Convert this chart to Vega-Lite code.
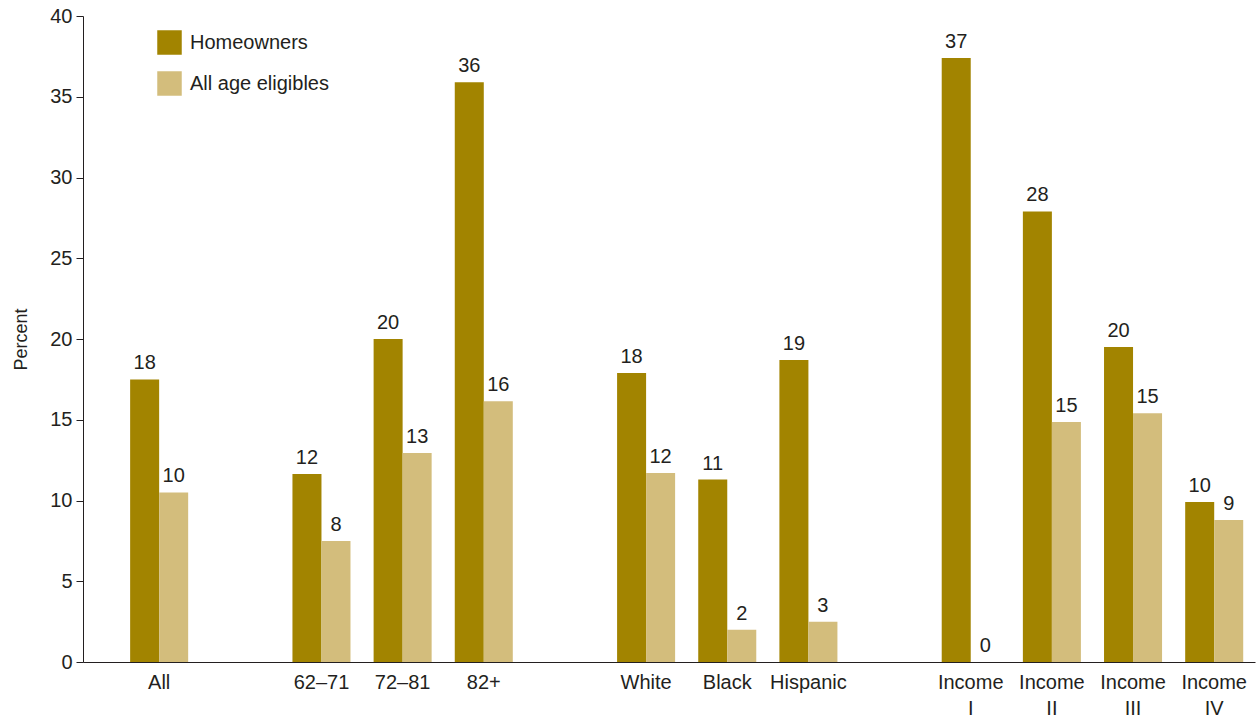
{
  "$schema": "https://vega.github.io/schema/vega-lite/v6.json",
  "width": 1172,
  "height": 646,
  "autosize": {"type": "none"},
  "padding": {"left": 83, "top": 16, "right": 3, "bottom": 55},
  "background": "white",
  "config": {
    "view": {"stroke": null},
    "font": "Liberation Sans",
    "axis": {"labelColor": "#231F20", "titleColor": "#231F20", "domainColor": "#231F20", "tickColor": "#231F20", "grid": false}
  },
  "data": {
    "values": [
      {"group": "All", "series": "Homeowners", "value": 17.5, "label": "18"},
      {"group": "All", "series": "All age eligibles", "value": 10.5, "label": "10"},
      {"group": "62–71", "series": "Homeowners", "value": 11.64, "label": "12"},
      {"group": "62–71", "series": "All age eligibles", "value": 7.5, "label": "8"},
      {"group": "72–81", "series": "Homeowners", "value": 20.0, "label": "20"},
      {"group": "72–81", "series": "All age eligibles", "value": 12.94, "label": "13"},
      {"group": "82+", "series": "Homeowners", "value": 35.9, "label": "36"},
      {"group": "82+", "series": "All age eligibles", "value": 16.15, "label": "16"},
      {"group": "White", "series": "Homeowners", "value": 17.9, "label": "18"},
      {"group": "White", "series": "All age eligibles", "value": 11.7, "label": "12"},
      {"group": "Black", "series": "Homeowners", "value": 11.3, "label": "11"},
      {"group": "Black", "series": "All age eligibles", "value": 2.0, "label": "2"},
      {"group": "Hispanic", "series": "Homeowners", "value": 18.7, "label": "19"},
      {"group": "Hispanic", "series": "All age eligibles", "value": 2.5, "label": "3"},
      {"group": "Income I", "series": "Homeowners", "value": 37.4, "label": "37"},
      {"group": "Income I", "series": "All age eligibles", "value": 0, "label": "0"},
      {"group": "Income II", "series": "Homeowners", "value": 27.9, "label": "28"},
      {"group": "Income II", "series": "All age eligibles", "value": 14.86, "label": "15"},
      {"group": "Income III", "series": "Homeowners", "value": 19.5, "label": "20"},
      {"group": "Income III", "series": "All age eligibles", "value": 15.4, "label": "15"},
      {"group": "Income IV", "series": "Homeowners", "value": 9.9, "label": "10"},
      {"group": "Income IV", "series": "All age eligibles", "value": 8.8, "label": "9"}
    ]
  },
  "encoding": {
    "x": {
      "field": "group",
      "type": "nominal",
      "scale": {
        "domain": ["All", "gap1", "62–71", "72–81", "82+", "gap2", "White", "Black", "Hispanic", "gap3", "Income I", "Income II", "Income III", "Income IV"],
        "paddingInner": 0.285,
        "paddingOuter": 0.363,
        "align": 0.8
      },
      "axis": {
        "title": null,
        "labelAngle": 0,
        "ticks": false,
        "labelFontSize": 20,
        "labelPadding": 10,
        "labelLineHeight": 26,
        "labelBaseline": "top",
        "labelExpr": "indexof(datum.label, 'gap') == 0 ? '' : (indexof(datum.label, 'Income') == 0 ? ['Income', substring(datum.label, 7)] : datum.label)"
      }
    },
    "xOffset": {
      "field": "series",
      "type": "nominal",
      "scale": {"domain": ["Homeowners", "All age eligibles"], "paddingInner": 0, "paddingOuter": 0}
    },
    "y": {
      "field": "value",
      "type": "quantitative",
      "scale": {"domain": [0, 40], "nice": false},
      "axis": {
        "title": "Percent",
        "titleFontSize": 18,
        "titleFontWeight": "normal",
        "titlePadding": 19,
        "labelFontSize": 20,
        "labelPadding": 4,
        "tickSize": 7,
        "values": [0, 5, 10, 15, 20, 25, 30, 35, 40]
      }
    }
  },
  "layer": [
    {
      "mark": {"type": "bar"},
      "encoding": {
        "color": {
          "field": "series",
          "type": "nominal",
          "scale": {"domain": ["Homeowners", "All age eligibles"], "range": ["#A28400", "#D3BD7C"]},
          "legend": {
            "title": null,
            "orient": "none",
            "legendX": 74,
            "legendY": 14,
            "symbolType": "square",
            "symbolSize": 600,
            "symbolStrokeWidth": 0,
            "symbolOpacity": 1,
            "labelFontSize": 20,
            "labelColor": "#231F20",
            "labelOffset": 8,
            "rowPadding": 16
          }
        }
      }
    },
    {
      "mark": {"type": "text", "baseline": "bottom", "dy": -6, "fontSize": 20, "color": "#231F20"},
      "encoding": {"text": {"field": "label"}}
    }
  ]
}
